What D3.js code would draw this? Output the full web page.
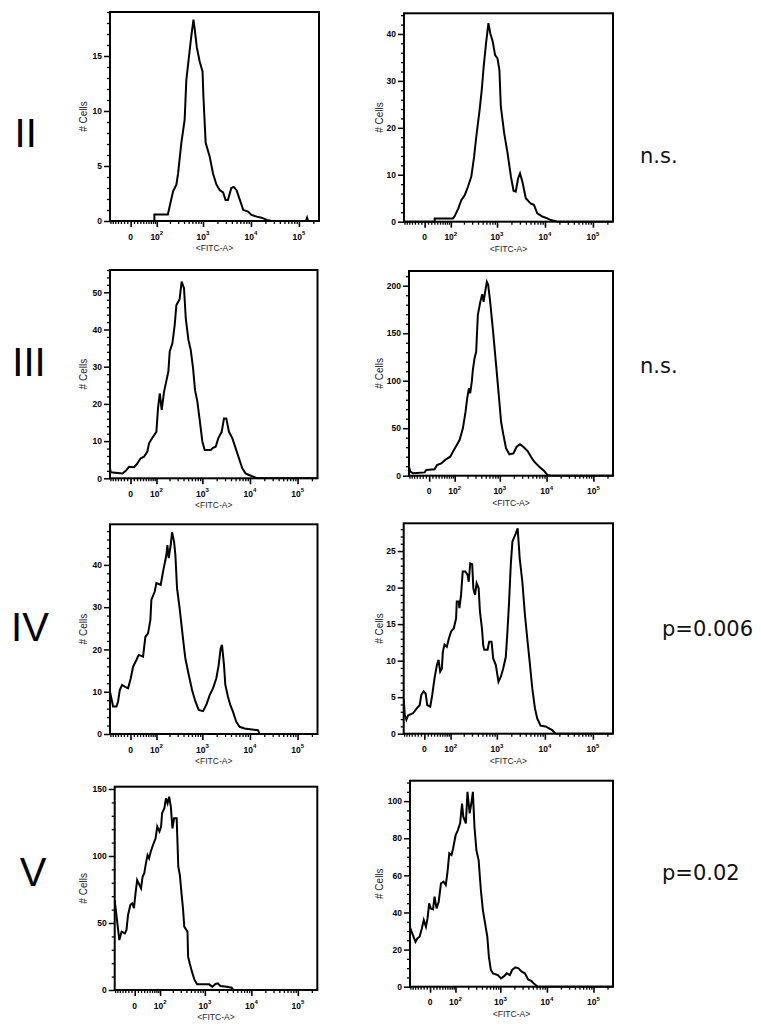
<!DOCTYPE html>
<html><head><meta charset="utf-8">
<script src="https://cdn.jsdelivr.net/npm/d3@7"></script>
<style>body{margin:0;background:#fff;} svg{display:block;}</style>
</head><body>
<svg id="chart" width="761" height="1027"></svg>
<script>
// ---------------- data ----------------
const rowLabels = ["II", "III", "IV", "V"];
const pValues = ["n.s.", "n.s.", "p=0.006", "p=0.02"];
const xAxisTitle = "<FITC-A>";
const yAxisTitle = "# Cells";
const xMajorTicks = [0, 100, 1000, 10000, 100000];
const xMajorBase = ["0", "10", "10", "10", "10"];
const xMajorExp = ["", "2", "3", "4", "5"];
const xMinorTicks = [-70,-60,-50,-40,-30,-20,-10,10,20,30,40,50,60,70,80,90,
  200,300,400,500,600,700,800,900,2000,3000,4000,5000,6000,7000,8000,9000,
  20000,30000,40000,50000,60000,70000,80000,90000,200000];

// histograms: [FITC value, # cells]
const histII_a = [[-72,0],[87,0],[87,0.6],[180,0.6],[200,1.45],[234,2.7],[275,3.3],[299,4.3],[351,7.1],[412,9.2],[447,12.8],[525,15.5],[569,16.8],[631,18.3],[668,17.5],[741,15.8],[851,14.5],[977,13.6],[1020,11.3],[1135,7.1],[1380,5.85],[1620,4.3],[1910,3.3],[2240,2.8],[2630,2.6],[2950,1.9],[3310,1.9],[3890,3.0],[4370,3.1],[5010,2.8],[5890,1.9],[6920,1.0],[8710,0.85],[10200,0.55],[13200,0.4],[16600,0.3],[21400,0.1],[27000,0],[140000,0],[148000,0.3],[156000,0],[262144,0]];
const histII_b = [[-72,0],[31,0],[31,0.7],[113,0.7],[124,1.2],[149,2.8],[175,4.6],[209,5.7],[245,7.5],[288,9.6],[331,13.9],[367,18.1],[432,23.8],[479,28.1],[525,33.0],[589,38.0],[661,42.3],[724,40.1],[813,38.4],[912,35.5],[1023,34.8],[1122,32.3],[1202,24.5],[1413,18.8],[1660,14.6],[1950,9.6],[2213,6.6],[2455,6.4],[2754,9.2],[3020,10.3],[3388,8.5],[3981,5.0],[5012,3.9],[5888,3.6],[6918,1.8],[8810,1.1],[11220,0.7],[13180,0.35],[18200,0],[262144,0]];
const histIII_a = [[-72,2.7],[-68.5,1.6],[-24.8,1.3],[-14.3,2.0],[-4.2,3.1],[10.7,3.0],[21,4.0],[31.9,5.4],[43.6,5.8],[56.4,7.2],[63.4,9.4],[78.5,10.9],[99.5,12.5],[109,18.8],[120,22.8],[133.4,18.4],[151,23.3],[170.3,26.2],[188.6,28.7],[201.8,34.1],[231,36.3],[259,41.2],[282,46.6],[311,47.5],[331,48.2],[365,52.9],[410,51.1],[447,43.0],[508,37.2],[569,34.5],[637,29.6],[701,23.7],[785,20.6],[879,15.7],[1000,9.9],[1119,7.6],[1496,7.6],[1675,8.2],[1905,8.5],[2168,10.8],[2547,12.5],[2851,16.1],[3184,16.1],[3622,12.5],[4256,10.8],[5000,8.1],[5875,5.4],[6902,2.7],[8110,1.3],[9528,0.9],[12130,0.4],[14260,0],[262144,0]];
const histIII_b = [[-72,9.5],[-65.6,4.2],[-54.3,2.5],[-13.7,3.5],[-8.6,6],[16.9,6.7],[24.5,11.2],[39.4,13],[58.5,17.5],[76.5,20],[90.2,25.3],[109,31.2],[131.5,37.5],[157,49.8],[180.6,67.4],[196.6,81.4],[214.4,92],[229,86.7],[249,99],[262,111],[285,123.5],[310,130.5],[337,169],[381,183],[420,191],[449,183],[486,193.7],[528,204],[564,201],[622,183],[708,155],[834,116.5],[951,85],[1064,57],[1194,43],[1361,28.8],[1603,22.5],[1950,23.5],[2296,30.5],[2704,33],[3184,30.5],[3936,26],[4634,20],[5458,14.7],[6966,9.5],[8892,4.9],[10470,0.7],[12330,0],[262144,0]];
const histIV_a = [[-72,10],[-58.5,6.5],[-45.5,6.5],[-39.5,7.7],[-33.6,10.4],[-25.9,11.6],[-17.4,11.2],[-7.2,10.8],[0.8,13.2],[7.7,15.9],[17.9,17.5],[25.3,18.7],[40,18.3],[48.6,23.0],[59.1,23.8],[69.3,27.0],[73.8,31.7],[90.4,33.7],[99.5,35.7],[126.5,35.3],[143.2,38.4],[156.3,40.4],[170.3,42.4],[179.3,44.7],[191.9,41.6],[212.4,44.7],[227,47.7],[251,45.5],[268,42.4],[291,34.5],[331,29.7],[390,22.6],[437,17.9],[516,14.0],[607,10.4],[713,7.7],[838,5.7],[1033,5.4],[1213,6.9],[1426,9.2],[1675,10.8],[1968,13.2],[2203,16.3],[2427,20.3],[2588,21.1],[2851,16.3],[3041,11.6],[3451,8.8],[3864,6.9],[4395,5.3],[5164,2.9],[6067,1.7],[7727,1.3],[9078,1.2],[14720,0.9],[15960,0],[262144,0]];
const histIV_b = [[-72,4.8],[-67.3,2.6],[-60.3,1.9],[-53.5,2.5],[-35.4,2.8],[-24.5,3.4],[-14.2,3.9],[-9.1,5.3],[-2.2,5.8],[3.7,5.5],[8.6,3.9],[17.7,3.7],[23.9,5.3],[31.5,7.6],[39.5,9.4],[45.4,10.1],[51.7,8.5],[58.2,8.9],[62.4,11.2],[69.5,12.2],[80.4,11.9],[90.4,13.0],[103.1,14.0],[119.2,14.4],[135.1,15.8],[140,18.1],[155.1,18.1],[160.5,17.2],[174.6,19.0],[190,22.2],[217,22.2],[243,21.7],[256,20.8],[276,23.3],[304,23.2],[321,19.9],[349,19.0],[377,20.6],[416,19.9],[443,16.7],[488,14.4],[519,12.1],[545,11.5],[640,11.5],[692,12.6],[775,12.6],[839,10.3],[952,9.4],[1081,7.1],[1211,7.8],[1352,8.9],[1535,10.5],[1663,14.0],[1799,18.1],[1950,23.1],[2109,26.3],[2472,27.4],[2716,28.1],[2992,24.0],[3396,20.8],[3855,16.2],[4305,13.0],[4819,9.9],[5470,6.2],[6209,3.5],[6934,2.1],[8128,1.1],[10330,1.0],[14190,0.5],[16630,0],[262144,0]];
const histV_a = [[-72,67],[-52,37.3],[-43.2,43.5],[-31.5,42.3],[-26,44.8],[-20.8,56],[-13.6,63.4],[-7.4,64.7],[-2.4,61],[2.5,72.1],[7.5,82.1],[12.4,79.6],[19.7,75.9],[25,84.6],[30.5,87.1],[36.2,94.5],[42.1,100.7],[48,98.3],[54.5,103.2],[64.2,108.2],[76.3,113.2],[84.4,121.9],[96.6,118.2],[106.2,121.9],[112.2,131.8],[127.5,135.6],[139.3,143],[152,139.3],[165.4,144.3],[180.2,136.8],[196.2,120.6],[213.4,128.1],[243.8,128.1],[264.9,92],[287,85.8],[311.7,72.1],[338,59.7],[358,47.3],[421,43.5],[434,24.9],[470,19.9],[526,13.7],[598,7.5],[681,4.2],[1233,4.2],[1445,2.5],[1698,4.5],[1901,5],[2158,3],[2979,2.5],[3784,1.7],[4102,0],[262144,0]];
const histV_b = [[-72,32],[-48.7,24.2],[-41.5,26],[-33.5,26.9],[-25.9,31.4],[-19.6,35.9],[-12.6,32.3],[-7.7,36.8],[-2.7,44.9],[2.2,42.2],[9.1,41.7],[14,48.5],[20.2,42.2],[27.4,45.8],[35.1,55.7],[44.5,56.6],[53.3,54.8],[59.7,61],[68.2,71.8],[78.8,70.9],[86.9,74.5],[101.2,81.7],[114.9,84.4],[130.1,88],[144.3,98.7],[154.3,91.6],[176.7,88],[192.3,105],[215.4,93.4],[234.2,98.7],[253.9,105],[275.2,86.2],[303.1,73.6],[339.2,68.2],[379.5,52.1],[420,41.3],[469,34.1],[524,26.9],[566,16.2],[624,9],[695,7.2],[881,6.3],[1033,4.5],[1208,5.7],[1371,7.2],[1603,6.3],[1791,9],[2099,10.4],[2455,9.9],[2877,8.1],[3365,7.2],[3945,3.9],[4613,3.1],[5408,1.4],[6324,0],[262144,0]];

const yTicksII_a = [0, 5, 10, 15];
const yTicksII_b = [0, 10, 20, 30, 40];
const yTicksIII_a = [0, 10, 20, 30, 40, 50];
const yTicksIII_b = [0, 50, 100, 150, 200];
const yTicksIV_a = [0, 10, 20, 30, 40];
const yTicksIV_b = [0, 5, 10, 15, 20, 25];
const yTicksV_a = [0, 50, 100, 150];
const yTicksV_b = [0, 20, 40, 60, 80, 100];
const yMaxes = [19, 44.4, 56, 215.5, 49.6, 28.8, 151.7, 111];
const yMinorSteps = [1, 2, 2, 10, 2, 1, 10, 5];

// ---------------- layout ----------------
const panels = [
  {data: histII_a,  ticks: yTicksII_a,  x0: 110,   x1: 319,   y0: 12,    y1: 221,   col: 0},
  {data: histII_b,  ticks: yTicksII_b,  x0: 404,   x1: 613,   y0: 13.3,  y1: 221.7, col: 1},
  {data: histIII_a, ticks: yTicksIII_a, x0: 110,   x1: 317.5, y0: 270,   y1: 478.3, col: 0},
  {data: histIII_b, ticks: yTicksIII_b, x0: 409,   x1: 613,   y0: 271,   y1: 475.7, col: 1},
  {data: histIV_a,  ticks: yTicksIV_a,  x0: 110,   x1: 317.5, y0: 524.3, y1: 734,   col: 0},
  {data: histIV_b,  ticks: yTicksIV_b,  x0: 403.7, x1: 613,   y0: 523.3, y1: 733.7, col: 1},
  {data: histV_a,   ticks: yTicksV_a,   x0: 114.7, x1: 317.3, y0: 786.7, y1: 990,   col: 0},
  {data: histV_b,   ticks: yTicksV_b,   x0: 410,   x1: 613,   y0: 780.7, y1: 986.7, col: 1}
];
const rowLabelPos = [[25.7, 147], [29, 376], [30, 641], [33, 886]];
const pLabelPos = [[640, 163], [640, 373], [662, 636], [662, 880]];
const yTitleX = [86.5, 383];

const W = 31, X_MIN = -72, X_MAX = 262144;
const T = v => Math.log10((v + Math.sqrt(v * v + 4 * W * W)) / 2);

const svg = d3.select("#chart");
const TICK_FONT = "'Liberation Sans', Arial, sans-serif";

panels.forEach((p, i) => {
  const lin = d3.scaleLinear().domain([T(X_MIN), T(X_MAX)]).range([p.x0, p.x1]);
  const xs = v => lin(T(v));
  const ys = d3.scaleLinear().domain([0, yMaxes[i]]).range([p.y1, p.y0]);
  const g = svg.append("g");

  const clipId = "clip" + i;
  svg.append("clipPath").attr("id", clipId).append("rect")
    .attr("x", p.x0).attr("y", p.y0 - 2).attr("width", p.x1 - p.x0).attr("height", p.y1 - p.y0 + 3);

  // histogram
  g.append("path").datum(p.data)
    .attr("clip-path", `url(#${clipId})`)
    .attr("fill", "none").attr("stroke", "#000").attr("stroke-width", 2)
    .attr("stroke-linejoin", "miter")
    .attr("d", d3.line().x(d => xs(d[0])).y(d => ys(d[1])));

  // frame
  g.append("rect").attr("x", p.x0).attr("y", p.y0)
    .attr("width", p.x1 - p.x0).attr("height", p.y1 - p.y0)
    .attr("fill", "none").attr("stroke", "#000").attr("stroke-width", 2);

  // y axis minor
  const step = yMinorSteps[i];
  const minor = d3.range(0, yMaxes[i] + 1e-6, step).filter(v => !p.ticks.includes(v));
  const ym = g.append("g").attr("transform", `translate(${p.x0},0)`)
    .call(d3.axisLeft(ys).tickValues(minor).tickSize(3).tickFormat(""));
  ym.select(".domain").remove();
  ym.selectAll("line").attr("stroke-width", 1.3);
  const yM = g.append("g").attr("transform", `translate(${p.x0},0)`)
    .call(d3.axisLeft(ys).tickValues(p.ticks).tickSize(6).tickPadding(2));
  yM.select(".domain").remove();
  yM.selectAll("line").attr("stroke-width", 1.5);
  yM.selectAll("text").attr("font-family", TICK_FONT).attr("font-weight", "bold")
    .attr("font-size", 8.5).attr("fill", "#000");

  // x axis
  const xm = g.append("g").attr("transform", `translate(0,${p.y1})`)
    .call(d3.axisBottom(lin).tickValues(xMinorTicks.map(T)).tickSize(3).tickFormat(""));
  xm.select(".domain").remove();
  xm.selectAll("line").attr("stroke-width", 1.3);
  const xM = g.append("g").attr("transform", `translate(0,${p.y1})`)
    .call(d3.axisBottom(lin).tickValues(xMajorTicks.map(T)).tickSize(6).tickFormat(""));
  xM.select(".domain").remove();
  xM.selectAll("line").attr("stroke-width", 1.6);

  const lab = g.append("g").selectAll("text").data(xMajorTicks).join("text")
    .attr("x", d => xs(d)).attr("y", p.y1 + 18.5)
    .attr("text-anchor", "middle").attr("font-family", TICK_FONT)
    .attr("font-weight", "bold").attr("font-size", 8.5);
  lab.append("tspan").text((d, k) => xMajorBase[k]);
  lab.append("tspan").attr("dy", -4.5).attr("font-size", 6).text((d, k) => xMajorExp[k]);

  // axis titles
  g.append("text").attr("x", (p.x0 + p.x1) / 2).attr("y", p.y1 + 30)
    .attr("text-anchor", "middle").attr("font-family", TICK_FONT)
    .attr("font-size", 8.5).attr("fill", "#222").text(xAxisTitle);
  g.append("text")
    .attr("transform", `translate(${yTitleX[p.col]},${(p.y0 + p.y1) / 2}) rotate(-90)`)
    .attr("text-anchor", "middle").attr("font-family", TICK_FONT)
    .attr("font-size", 10).attr("fill", "#222").text(yAxisTitle);
});

// row labels
svg.append("g").selectAll("text").data(rowLabels).join("text")
  .attr("x", (d, i) => rowLabelPos[i][0]).attr("y", (d, i) => rowLabelPos[i][1])
  .attr("text-anchor", "middle").attr("font-family", TICK_FONT)
  .attr("font-size", 40).attr("fill", "#000").text(d => d);

// p-values
svg.append("g").selectAll("text").data(pValues).join("text")
  .attr("x", (d, i) => pLabelPos[i][0]).attr("y", (d, i) => pLabelPos[i][1])
  .attr("font-family", "'DejaVu Sans', sans-serif")
  .attr("font-size", 21).attr("fill", "#111").text(d => d);
</script>
</body></html>
